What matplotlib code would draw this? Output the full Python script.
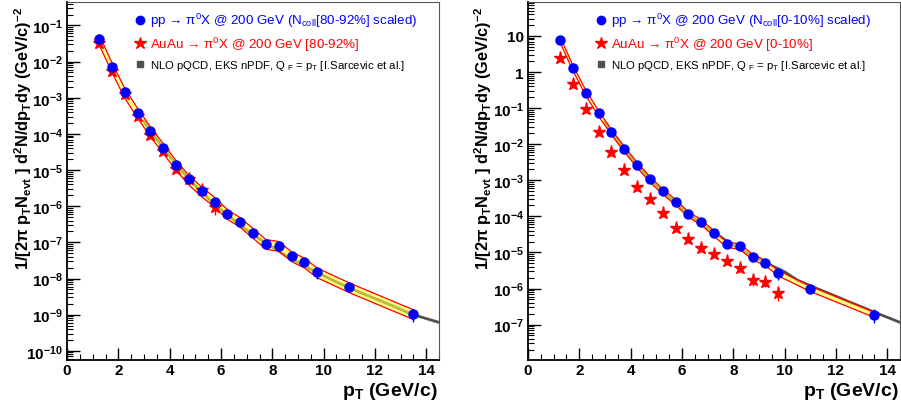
# coding:utf-8
import numpy as np
import matplotlib
matplotlib.use("Agg")
from matplotlib import pyplot as plt
from matplotlib.lines import Line2D
from matplotlib.ticker import LogLocator, MultipleLocator, FixedLocator, FuncFormatter, NullFormatter

# 字体设置 (ROOT 风格: Helvetica 粗体)
plt.rcParams['font.family'] = ['Liberation Sans', 'DejaVu Sans']
plt.rcParams['font.weight'] = 'bold'
plt.rcParams['mathtext.fontset'] = 'custom'
plt.rcParams['mathtext.rm'] = 'Liberation Sans'
plt.rcParams['mathtext.it'] = 'Liberation Sans:italic'
plt.rcParams['mathtext.bf'] = 'Liberation Sans:bold'
plt.rcParams['mathtext.default'] = 'regular'

# ---------------- 数据 ----------------
pt = [1.25, 1.75, 2.25, 2.75, 3.25, 3.75, 4.25, 4.75, 5.25, 5.75,
      6.25, 6.75, 7.25, 7.75, 8.25, 8.75, 9.25, 9.75, 11.0, 13.5]
pt_auau_periph = pt[:10]
pt_auau_central = pt[:18]

# 左图: 80-92% 外围碰撞
pp_periph = [4.2e-2, 7.2e-3, 1.4e-3, 3.9e-4, 1.2e-4, 4.1e-5, 1.4e-5, 5.5e-6, 2.6e-6, 1.35e-6,
             6.2e-7, 3.7e-7, 1.85e-7, 9.2e-8, 8.1e-8, 4.2e-8, 2.8e-8, 1.5e-8, 5.8e-9, 1.05e-9]
auau_periph = [3.2e-2, 5.4e-3, 1.25e-3, 3.1e-4, 9.3e-5, 3.4e-5, 1.1e-5, 5.7e-6, 2.8e-6, 9.5e-7]

# 右图: 0-10% 中心碰撞
pp_central = [7.9, 1.32, 0.27, 7.2e-2, 2.2e-2, 7.4e-3, 2.7e-3, 1.07e-3, 4.9e-4, 2.5e-4,
              1.14e-4, 6.9e-5, 3.4e-5, 1.67e-5, 1.47e-5, 7.6e-6, 5.2e-6, 2.7e-6, 1.0e-6, 1.9e-7]
auau_central = [2.5, 0.46, 9.4e-2, 2.2e-2, 6.0e-3, 1.9e-3, 6.5e-4, 3.0e-4, 1.2e-4, 4.9e-5,
                2.3e-5, 1.3e-5, 8.8e-6, 5.9e-6, 3.6e-6, 1.7e-6, 1.55e-6, 7.3e-7]

# 相对误差
pp_rel_err = [0.03, 0.03, 0.03, 0.03, 0.03, 0.03, 0.04, 0.05, 0.05, 0.08,
              0.08, 0.08, 0.1, 0.1, 0.1, 0.12, 0.15, 0.35, 0.15, 0.4]
auau_periph_rel_err = [0.05, 0.05, 0.05, 0.05, 0.05, 0.08, 0.1, 0.1, 0.15, 0.4]
auau_central_rel_err = [0.03, 0.03, 0.03, 0.03, 0.03, 0.03, 0.03, 0.05, 0.05, 0.08,
                        0.1, 0.12, 0.12, 0.15, 0.2, 0.3, 0.3, 0.4]

# Ncoll 标度带宽
band_periph = 0.30
band_central = 0.17

# NLO pQCD 曲线
pt_nlo = [3.0, 3.5, 4.0, 4.5, 5.0, 5.5, 6.0, 6.5, 7.0, 7.5, 8.0, 8.5,
          9.0, 9.5, 10.0, 10.5, 11.0, 11.5, 12.0, 12.5, 13.0, 13.5, 14.0, 14.5]
nlo_periph = [2.2e-4, 7.0e-5, 2.4e-5, 9.0e-6, 3.7e-6, 1.65e-6, 8.0e-7, 4.1e-7, 2.2e-7, 1.25e-7,
              7.4e-8, 4.5e-8, 2.8e-8, 1.8e-8, 1.2e-8, 8.0e-9, 5.6e-9, 3.9e-9, 2.8e-9, 2.0e-9,
              1.4e-9, 1.0e-9, 7.8e-10, 6.1e-10]
nlo_central = [4.0e-2, 1.25e-2, 4.4e-3, 1.7e-3, 7.2e-4, 3.4e-4, 1.65e-4, 8.6e-5, 4.7e-5, 2.7e-5,
               1.6e-5, 1.0e-5, 6.5e-6, 4.3e-6, 2.9e-6, 1.7e-6, 1.2e-6, 8.5e-7, 6.1e-7, 4.3e-7,
               3.1e-7, 2.2e-7, 1.6e-7, 1.15e-7]

# y 轴主刻度 (十的幂)
yticks_periph = [1e-10, 1e-9, 1e-8, 1e-7, 1e-6, 1e-5, 1e-4, 1e-3, 1e-2, 1e-1]
yticks_central = [1e-7, 1e-6, 1e-5, 1e-4, 1e-3, 1e-2, 1e-1, 1, 10]

labels_periph = ['pp → $\\pi^{0}$X @ 200 GeV (N$_{coll}$[80-92%] scaled)',
                 'AuAu → $\\pi^{0}$X @ 200 GeV [80-92%]',
                 'NLO pQCD, EKS nPDF, Q$_{\\ F}$ = p$_{T}$ [I.Sarcevic et al.]']
labels_central = ['pp → $\\pi^{0}$X @ 200 GeV (N$_{coll}$[0-10%] scaled)',
                  'AuAu → $\\pi^{0}$X @ 200 GeV [0-10%]',
                  'NLO pQCD, EKS nPDF, Q$_{\\ F}$ = p$_{T}$ [I.Sarcevic et al.]']

ylabel = r'1/[2$\pi$ p$_{T}$N$_{evt}$ ] d$^{2}$N/dp$_{T}$dy (GeV/c)$^{-2}$'


def log_label(v, pos):
    e = int(round(np.log10(v)))
    if e == 1:
        return '10'
    if e == 0:
        return '1'
    return r'$10^{%d}$' % e


def draw_panel(ax, pp, auau, pt_auau, auau_err, band, nlo, ylim, yticks, labels):
    pp = np.array(pp)
    auau = np.array(auau)
    # NLO 曲线
    ax.plot(pt_nlo, nlo, color='#505050', lw=2, zorder=1)
    # 标度带
    ax.fill_between(pt, pp * (1 - band), pp * (1 + band), color='#ffff33', alpha=0.6,
                    lw=0, zorder=2)
    ax.plot(pt, pp * (1 + band), color='red', lw=0.9, zorder=3)
    ax.plot(pt, pp * (1 - band), color='red', lw=0.9, zorder=3)
    ax.plot([pt[0], pt[0]], [pp[0] * (1 - band), pp[0] * (1 + band)], color='red', lw=0.9, zorder=3)
    ax.plot([pt[-1], pt[-1]], [pp[-1] * (1 - band), pp[-1] * (1 + band)], color='red', lw=0.9, zorder=3)
    # 数据点
    ax.errorbar(pt_auau, auau, yerr=auau * np.array(auau_err), fmt='*', color='red',
                ms=9.5, elinewidth=1, capsize=0, zorder=4)
    ax.errorbar(pt, pp, yerr=pp * np.array(pp_rel_err), fmt='o', color='blue',
                ms=6.5, elinewidth=1, capsize=0, zorder=5)

    ax.set_yscale('log')
    ax.set_xlim(0, 14.5)
    ax.set_ylim(*ylim)
    ax.xaxis.set_major_locator(MultipleLocator(2))
    ax.xaxis.set_minor_locator(MultipleLocator(0.5))
    ax.yaxis.set_major_locator(FixedLocator(yticks))
    ax.yaxis.set_minor_locator(LogLocator(base=10, subs=np.arange(2, 10), numticks=20))
    ax.yaxis.set_major_formatter(FuncFormatter(log_label))
    ax.yaxis.set_minor_formatter(NullFormatter())
    ax.tick_params(which='both', direction='in', top=False, right=False, labelsize=11)
    ax.tick_params(which='major', length=9, width=1)
    ax.tick_params(which='minor', length=4.5, width=0.8)
    ax.tick_params(axis='x', which='major', pad=2)
    ax.tick_params(axis='y', which='major', pad=3)
    for s in ['left', 'bottom']:
        ax.spines[s].set_linewidth(1.3)
    for s in ['top', 'right']:
        ax.spines[s].set_color('#555555')

    ax.set_ylabel(ylabel, fontsize=11.8, fontweight='bold', loc='top')
    ax.yaxis.set_label_coords(-0.09, 0.99)
    ax.set_xlabel(r'p$_{T}$ (GeV/c)', fontsize=14, fontweight='bold', loc='right')
    ax.xaxis.set_label_coords(0.995, -0.055)

    handles = [Line2D([], [], ls='', marker='o', color='blue', ms=6),
               Line2D([], [], ls='', marker='*', color='red', ms=9),
               Line2D([], [], ls='', marker='s', color='#505050', ms=4.5)]
    leg = ax.legend(handles, labels, loc='upper left', bbox_to_anchor=(0.15, 1.0),
                    frameon=False, prop={'weight': 'normal', 'size': 9.6},
                    handletextpad=0.15, labelspacing=0.4, borderaxespad=0.3,
                    labelcolor=['blue', 'red', 'black'], handlelength=1.2)
    leg.get_texts()[2].set_fontsize(8.2)


fig = plt.figure(figsize=(9.01, 4.06), dpi=100)
ax1 = fig.add_axes([0.0744, 0.111, 0.413, 0.882])
ax2 = fig.add_axes([0.586, 0.111, 0.413, 0.882])

draw_panel(ax1, pp_periph, auau_periph, pt_auau_periph, auau_periph_rel_err,
           band_periph, nlo_periph, (5.6e-11, 0.45), yticks_periph, labels_periph)
draw_panel(ax2, pp_central, auau_central, pt_auau_central, auau_central_rel_err,
           band_central, nlo_central, (1.05e-8, 88), yticks_central, labels_central)

fig.savefig('out.png', dpi=100)
